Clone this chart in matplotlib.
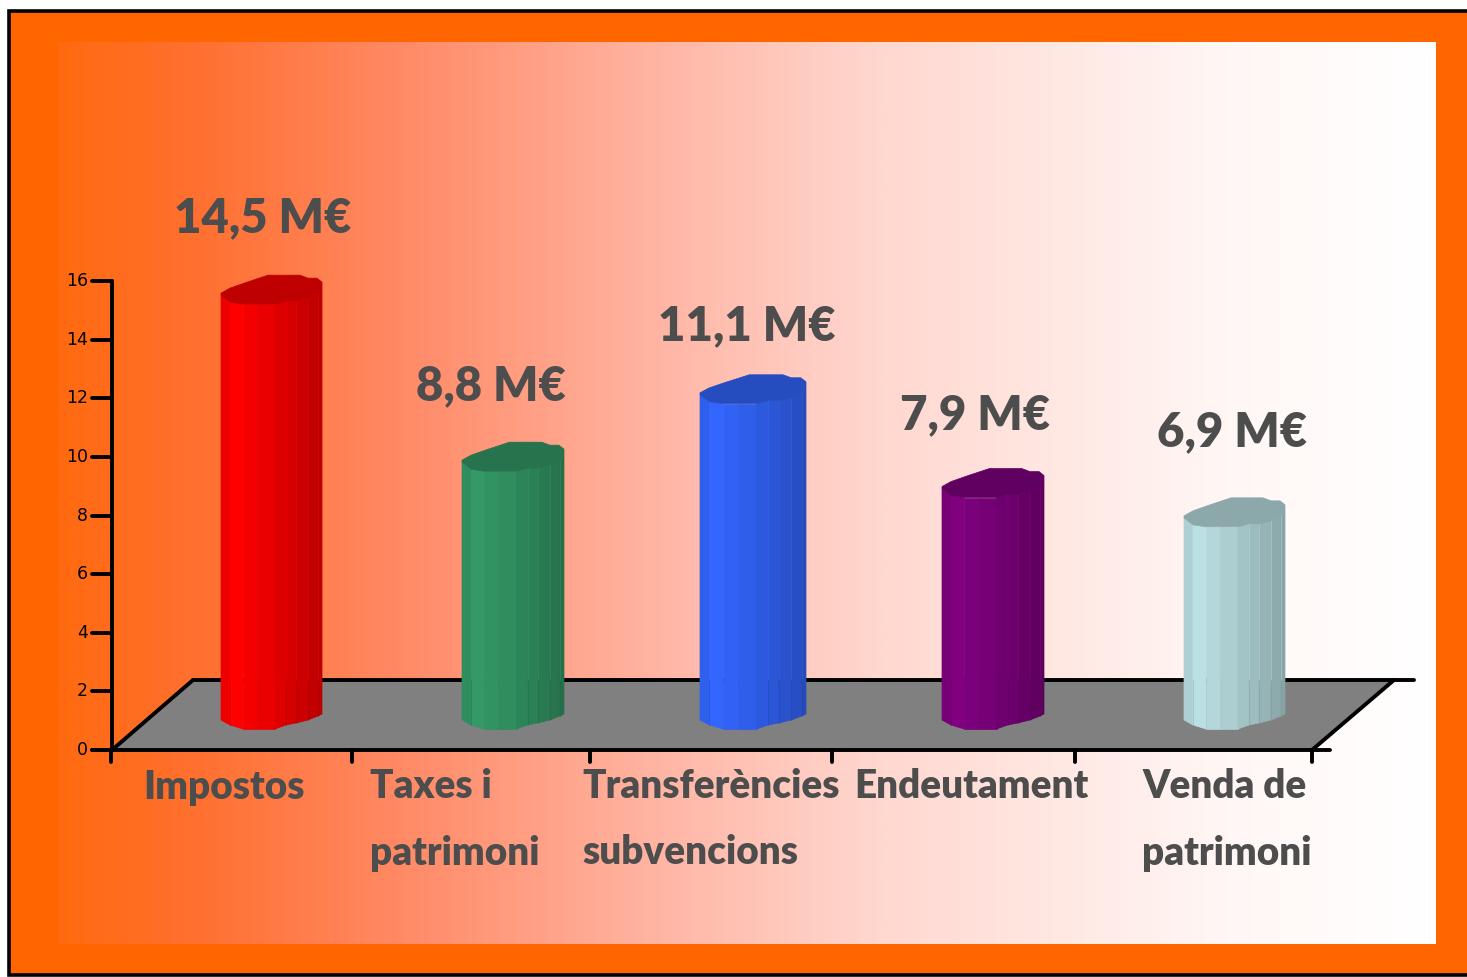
import matplotlib
matplotlib.use('Agg')
import matplotlib.pyplot as plt
from matplotlib.colors import LinearSegmentedColormap, to_rgb
import numpy as np

# chart data
categories = [['Impostos'], ['Taxes i', 'patrimoni'], ['Transferències', 'subvencions'],
              ['Endeutament'], ['Venda de', 'patrimoni']]
value_labels = ['14,5 M€', '8,8 M€', '11,1 M€', '7,9 M€', '6,9 M€']
values = [14.5, 8.8, 11.1, 7.9, 6.9]
colors = ['#FF0000', '#339966', '#3366FF', '#800080', '#BBE0E3']
y_ticks = [0, 2, 4, 6, 8, 10, 12, 14, 16]

# layout, in pixels of the 1467x977 picture
W, H = 1467, 977
Y0, PX_PER_UNIT = 750, 29.3
bar_left = [221, 462, 700, 942, 1184]
bar_width = [101, 102, 106, 102, 101]
bar_base = [720, 720, 720, 720, 720]
label_x = [143, 370, 582, 854, 1142]
value_x = [263, 491, 747, 975, 1232]
value_y = [218, 386, 326, 415, 432]
tick_x = [111, 352, 590, 832, 1075, 1312]

# shape of one bar: facet edges and the edge of the cap
facet_x = [0, 9, 22, 36, 54, 65, 75, 87, 97, 101]
facet_shade = [0.93, 1.0, 0.96, 0.92, 0.87, 0.84, 0.80, 0.76, 0.73]
top_dy = [0, 7, 9, 9, 9, 6, 6, 3, -2, -5]
bottom_dy = [0, 5, 9, 9, 9, 5, 3, 0, -4, -6]
back_x = [101, 96, 87, 79, 47, 26, 9, 0]
back_dy = [-13, -17, -17, -20, -20, -13, -7, -2]
edge_lines = [1, 5, 6, 7, 8]

bg_stops = [(0, '#FF6A10'), (0.1, '#FF7030'), (0.25, '#FF8A66'), (0.45, '#FFB8A8'),
            (0.6, '#FFD8D0'), (0.85, '#FFF7F5'), (1, '#FFFFFF')]


def yv(py):
    return (Y0 - py) / PX_PER_UNIT


def shade(color, f):
    return tuple(c * f for c in to_rgb(color))


fig = plt.figure(figsize=(W / 100, H / 100), dpi=100)
ax = fig.add_axes([0, 0, 1, 1])
ax.set_xlim(0, W)
ax.set_ylim(yv(H), yv(0))
ax.axis('off')

# orange frame with the black line round it
ax.fill([9, W + 5, W + 5, 9], [yv(10.5), yv(10.5), yv(975), yv(975)],
        facecolor='#FF6600', edgecolor='black', linewidth=2.6, zorder=1)

# gradient panel
cmap = LinearSegmentedColormap.from_list('bg', bg_stops)
ax.imshow(np.linspace(0, 1, 512)[None, :], cmap=cmap, aspect='auto',
          extent=(58, 1436, yv(944), yv(42)), zorder=2)
ax.set_xlim(0, W)
ax.set_ylim(yv(H), yv(0))

# floor
ax.fill([112, 193, 1394, 1312], [yv(750), yv(680), yv(680), yv(750)],
        facecolor='#808080', zorder=3)
line = dict(color='black', linewidth=2.8, solid_capstyle='round', zorder=4)
ax.plot([193, 1414], [yv(680), yv(680)], **line)
ax.plot([92, 1330], [0, 0], **line)
ax.plot([112, 193], [yv(750), yv(680)], **line)
ax.plot([1312, 1394], [yv(750), yv(680)], **line)

# y axis
ax.plot([112, 112], [0, y_ticks[-1]], **line)
for t in y_ticks:
    ax.plot([92, 112], [t, t], **line)
    ax.text(88, t, str(t), ha='right', va='center', fontsize=12.5, color='black',
            family='DejaVu Sans', zorder=5)
for x in tick_x:
    ax.plot([x, x], [0, yv(762)], **line)

# bars
for left, width, base, val, col in zip(bar_left, bar_width, bar_base, values, colors):
    bottom = yv(base)
    top = bottom + val
    scale = width / 101
    xs = [left + d * scale for d in facet_x]
    y_top = [top - d / PX_PER_UNIT for d in top_dy]
    y_bot = [bottom - d / PX_PER_UNIT for d in bottom_dy]
    for j, f in enumerate(facet_shade):
        ax.fill([xs[j], xs[j + 1], xs[j + 1], xs[j]],
                [y_bot[j], y_bot[j + 1], y_top[j + 1], y_top[j]],
                facecolor=shade(col, f), edgecolor=shade(col, f), linewidth=0.5, zorder=6)
    # faint lines on the facet edges
    for j in edge_lines:
        ax.plot([xs[j], xs[j]], [yv(680), y_top[j]], color=shade(col, 1.0), alpha=0.45,
                linewidth=0.7, zorder=7)
        ax.plot([xs[j], xs[j]], [y_bot[j], yv(680)], color=shade(col, 0.65), alpha=0.35,
                linewidth=0.7, zorder=7)
    cap_x = xs + [left + d * scale for d in back_x]
    cap_y = y_top + [top - d / PX_PER_UNIT for d in back_dy]
    ax.fill(cap_x, cap_y, facecolor=shade(col, 0.75), edgecolor=shade(col, 0.75),
            linewidth=0.5, zorder=8)

# text labels
font = dict(family='Lato', fontweight='heavy', color='#4D4D4D', zorder=9)
for x, py, txt in zip(value_x, value_y, value_labels):
    ax.text(x, yv(py), txt, ha='center', va='center', fontsize=34, **font)
for x, lines in zip(label_x, categories):
    for k, txt in enumerate(lines):
        ax.text(x, yv(787 + 66 * k), txt, ha='left', va='center', fontsize=27.8, **font)

fig.savefig('out.png', dpi=100, facecolor='white')
